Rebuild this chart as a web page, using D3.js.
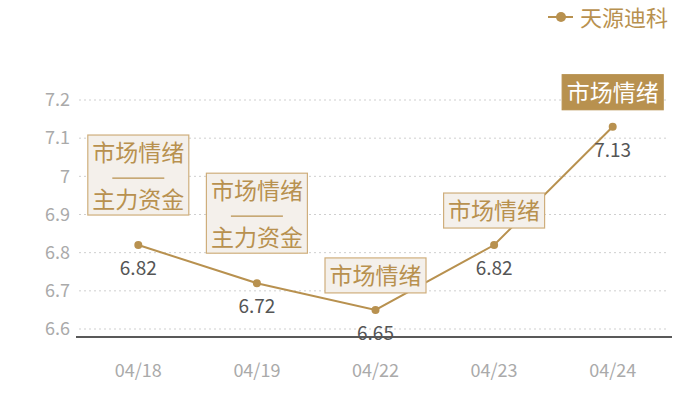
<!DOCTYPE html>
<html>
<head>
<meta charset="utf-8">
<script src="https://cdn.jsdelivr.net/npm/d3@7"></script>
<style>
  body { margin: 0; background: #fff; }
  text { font-family: "Noto Sans CJK SC", "Noto Sans", sans-serif; }
</style>
</head>
<body>
<div id="chart"></div>
<script>
const width = 700
const height = 400
const margin = { top: 100, right: 28, bottom: 63, left: 79 }

// data
const dates = ["04/18", "04/19", "04/22", "04/23", "04/24"]
const values = [6.82, 6.72, 6.65, 6.82, 7.13]
const notes = [["市场情绪", "主力资金"], ["市场情绪", "主力资金"], ["市场情绪"], ["市场情绪"], ["市场情绪"]]
const highlight = [false, false, false, false, true]
const yTicks = [6.6, 6.7, 6.8, 6.9, 7.0, 7.1, 7.2]
const seriesName = "天源迪科"

const gold = "#b8914f"

const svg = d3.select("div#chart").append("svg").attr("width", width).attr("height", height)

const x = d3.scaleBand().domain(dates).range([margin.left, width - margin.right])
const y = d3.scaleLinear().domain([6.6, 7.2]).range([329, 100])
const cx = d => x(d) + x.bandwidth() / 2

// grid
const grid = svg.append("g").attr("class", "grid")
grid.selectAll("line").data(yTicks).enter().append("line")
    .attr("x1", margin.left).attr("x2", 668)
    .attr("y1", d => y(d)).attr("y2", d => y(d))
    .attr("stroke", "#cfcfcf").attr("stroke-dasharray", "2,3")

// y axis labels
const yAxis = d3.axisLeft(y).tickValues(yTicks).tickSize(0).tickPadding(9).tickFormat(d3.format("~g"))
const yAxisGroup = svg.append("g").attr("transform", `translate(${margin.left}, 0)`).call(yAxis)
yAxisGroup.select(".domain").remove()
yAxisGroup.selectAll("text").attr("fill", "#aaa").attr("font-size", 18)
    .style("font-family", "'Noto Sans CJK SC', sans-serif")

// x axis
const xAxis = d3.axisBottom(x).tickSize(0).tickPadding(27)
const xAxisGroup = svg.append("g").attr("transform", `translate(0, ${y(6.579)})`).call(xAxis)
xAxisGroup.select(".domain").attr("stroke", "#222").attr("stroke-width", 1.3)
    .attr("d", `M${margin.left - 3},0H${width - margin.right}`)
xAxisGroup.selectAll("text").attr("fill", "#aaa").attr("font-size", 18)
    .style("font-family", "'Noto Sans CJK SC', sans-serif")

// line
const line = d3.line().x((d, i) => cx(dates[i])).y(d => y(d))
svg.append("path").datum(values)
    .attr("d", line).attr("fill", "none").attr("stroke", gold).attr("stroke-width", 2)

svg.append("g").selectAll("circle").data(values).enter().append("circle")
    .attr("cx", (d, i) => cx(dates[i])).attr("cy", d => y(d)).attr("r", 4)
    .attr("fill", gold)

// value labels
svg.append("g").selectAll("text").data(values).enter().append("text")
    .attr("x", (d, i) => cx(dates[i])).attr("y", d => y(d) + 30)
    .attr("text-anchor", "middle").attr("font-size", 19).attr("fill", "#555")
    .text(d => d.toFixed(2))

// annotation boxes
const notesGroup = svg.append("g")
notes.forEach((n, i) => {
    const px = cx(dates[i])
    const py = y(values[i])
    const two = n.length > 1
    const h = two ? 80 : 35
    const w = 101
    const top = py - (two ? 30 : 17) - h
    const g = notesGroup.append("g")
    g.append("rect")
        .attr("x", px - w / 2).attr("y", top).attr("width", w).attr("height", h)
        .attr("fill", highlight[i] ? gold : "#f4f0eb")
        .attr("stroke", highlight[i] ? gold : "#cfae7c").attr("stroke-width", 1.2)
    const col = highlight[i] ? "#fff" : gold
    g.append("text").attr("x", px).attr("y", top + 18).attr("dy", "0.35em")
        .attr("text-anchor", "middle").attr("font-size", 23).attr("fill", col).text(n[0])
    if (two) {
        g.append("line").attr("x1", px - 26).attr("x2", px + 26)
            .attr("y1", top + 43).attr("y2", top + 43).attr("stroke", col).attr("stroke-width", 1.2)
        g.append("text").attr("x", px).attr("y", top + 65).attr("dy", "0.35em")
            .attr("text-anchor", "middle").attr("font-size", 23).attr("fill", col).text(n[1])
    }
})

// legend
const legend = svg.append("g").attr("transform", "translate(548, 17)")
legend.append("line").attr("x1", 0).attr("x2", 25).attr("stroke", gold).attr("stroke-width", 2)
legend.append("circle").attr("cx", 13).attr("r", 5).attr("fill", gold)
legend.append("text").attr("x", 32).attr("y", 9).attr("font-size", 22).attr("fill", gold).text(seriesName)
</script>
</body>
</html>
